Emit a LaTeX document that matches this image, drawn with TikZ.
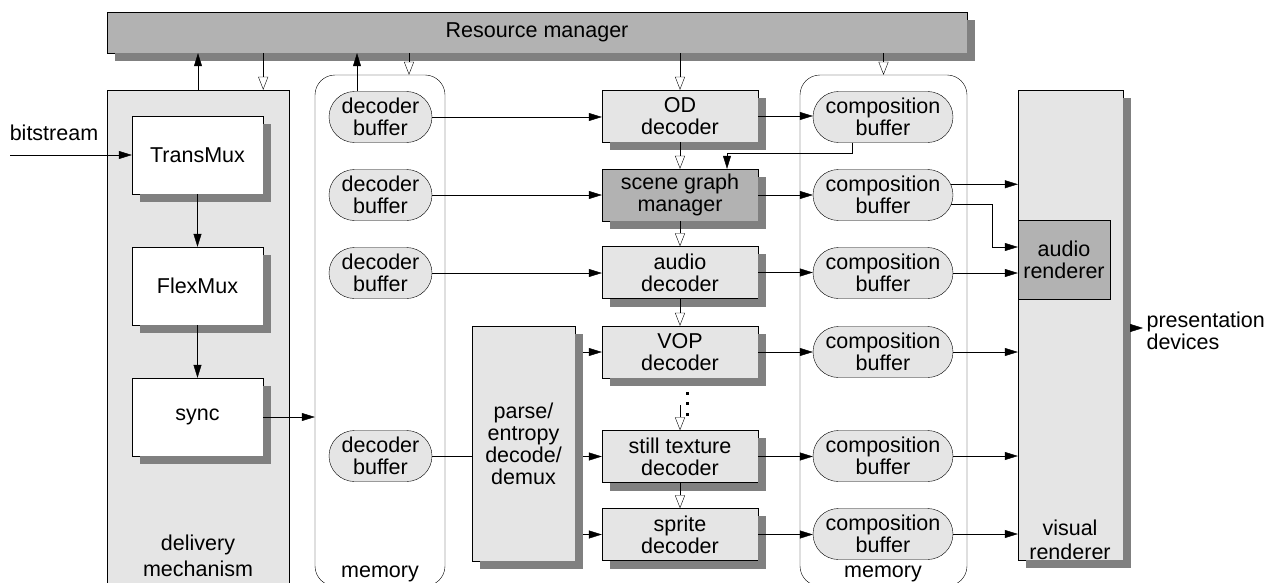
\documentclass[tikz,border=0pt]{standalone}
\usepackage{fontspec}
\setmainfont{Liberation Sans}
\usetikzlibrary{arrows.meta,shapes.misc}
\definecolor{boxlight}{gray}{0.9}
\definecolor{boxmid}{gray}{0.7}
\definecolor{boxshadow}{rgb}{0.5,0.5,0.5}
\pgfdeclarelayer{back}
\pgfsetlayers{back,main}

\begin{document}
\begin{tikzpicture}[x=1pt, y=-1pt, line width=1.2pt,
    font=\fontsize{21.5}{22}\selectfont,
    block/.style={draw, inner sep=0pt, align=center, fill=boxlight},
    buffer/.style={draw, rounded rectangle, fill=boxlight, inner sep=0pt,
        align=center, minimum height=51pt},
    memory/.style={draw, rounded corners=20pt, minimum height=511pt},
    filled/.style={-{Triangle[length=13pt,width=8pt]}},
    hollow/.style={-{Triangle[open,length=13pt,width=10pt]}}]
    \useasboundingbox (0,0) rectangle (1265,583);

    %% delivery mechanism
    \begin{pgfonlayer}{back}
      \node[draw, fill=boxlight, minimum width=182pt, minimum height=510pt] (deliv)
          at (198,345) {};
    \end{pgfonlayer}

    %% resource manager
    \node[block, fill=boxmid, minimum width=860pt, minimum height=41pt] (resmgr)
        at (537,32.5) {Resource manager};
    \node[align=center] (delivlbl) at (198,556) {delivery\\[4pt]mechanism};
    \foreach \name/\y/\txt in {transmux/155/TransMux, flexmux/286/FlexMux, sync/417/sync} {
        \node[block, fill=white, minimum width=131pt, minimum height=78pt] (\name)
            at (197.5,\y) {\txt}; }

    %% memories
    \node[memory, minimum width=130pt] (mem1) at (380,330.5) {};
    \node[memory, minimum width=167pt] (mem2) at (883.5,330.5) {};
    \node[anchor=base] (mem1lbl) at (380,577) {memory};
    \node[anchor=base] (mem2lbl) at (883,577) {memory};

    \foreach \name/\y in {db1/117, db2/195, db3/273, db4/456} {
        \node[buffer, minimum width=103pt] (\name) at (380.5,\y) {decoder\\buffer}; }

    \foreach \name/\y in {cb1/117, cb2/195, cb3/273, cb4/352, cb5/456, cb6/534} {
        \node[buffer, minimum width=140pt] (\name) at (883,\y) {composition\\buffer}; }

    %% decoders
    \foreach \name/\y/\tone/\txt in {od/116/boxlight/{OD\\decoder},
            scene/195/boxmid/{scene graph\\manager}, audio/272.5/boxlight/{audio\\decoder},
            vop/352/boxlight/{VOP\\decoder}, still/456.5/boxlight/{still texture\\decoder},
            sprite/534.5/boxlight/{sprite\\decoder}} {
        \node[block, fill=\tone, minimum width=156pt, minimum height=52pt] (\name)
            at (680,\y) {\txt}; }

    \node[block, minimum width=103pt, minimum height=235pt] (parse)
        at (523.5,443.5) {parse/\\entropy\\decode/\\demux};

    %% renderers
    \node[block, minimum width=105pt, minimum height=470pt] (vrend) at (1070.5,325) {};
    \node[align=center] (vrendlbl) at (1070,540) {visual\\[2pt]renderer};
    \node[draw, fill=boxmid, inner sep=0pt, align=center, minimum width=92pt,
        minimum height=79pt] (arend) at (1064,259.5) {audio\\renderer};
    \node[anchor=west, align=left] (pres) at (1143,331) {presentation\\devices};
    \node (bslbl) at (54,133) {bitstream};

    %% shadows, right and bottom strips
    \foreach \n in {resmgr,transmux,flexmux,sync,od,scene,audio,vop,still,sprite,parse,vrend} {
        \fill[boxshadow] ([yshift=-8pt]\n.north east) rectangle ([shift={(8pt,-8pt)}]\n.south east);
        \fill[boxshadow] ([xshift=8pt]\n.south west) rectangle ([shift={(8pt,-8pt)}]\n.south east); }

    %% resource manager links
    \draw[filled] (deliv.north) -- (deliv.north |- resmgr.south);
    \draw[hollow] (transmux.east |- resmgr.south) -- (transmux.east |- deliv.north);
    \coordinate (db1up) at ([xshift=-23.5pt]db1.north);
    \draw[filled] (db1up) -- (db1up |- resmgr.south);
    \coordinate (mem1in) at ([xshift=29pt]mem1.north);
    \draw[hollow] (mem1in |- resmgr.south) -- (mem1in);
    \draw[hollow] (od.north |- resmgr.south) -- (od.north);
    \draw[hollow] (mem2.north |- resmgr.south) -- (mem2.north);

    %% delivery
    \coordinate (bsin) at (10,155);
    \draw[filled] (bsin) -- (transmux.west);
    \draw[filled] (transmux.south) -- (flexmux.north);
    \draw[filled] (flexmux.south) -- (sync.north);
    \draw[filled] (sync.east) -- (sync.east -| mem1.west);

    %% decoder buffers to decoders
    \draw[filled] (db1.east) -- (db1.east -| od.west);
    \draw[filled] (db2.east) -- (db2.east -| scene.west);
    \draw[filled] (db3.east) -- (db3.east -| audio.west);
    \draw (db4.east) -- (db4.east -| parse.west);
    \coordinate (pshad) at ([xshift=8pt]parse.east);
    \foreach \n in {vop,still,sprite} {
        \draw[filled] (pshad |- \n.west) -- (\n.west); }

    %% decoder chain
    \draw[hollow] (od.south) -- (scene.north);
    \draw[hollow] (scene.south) -- (audio.north);
    \draw[hollow] (audio.south) -- (vop.north);
    \draw[hollow] (still.south) -- (sprite.north);
    \foreach \y in {393,403.5,414} {
        \fill (685.5,\y-1.5) rectangle +(3,3); }
    \coordinate (dotsend) at (680,405);
    \draw[hollow] (dotsend) -- (still.north);

    %% decoders to composition buffers
    \draw[filled] (od.east) -- (od.east -| cb1.west);
    \draw[filled] (scene.east) -- (scene.east -| cb2.west);
    \draw[filled] (audio.east) -- (audio.east -| cb3.west);
    \draw[filled] (vop.east) -- (vop.east -| cb4.west);
    \draw[filled] (still.east) -- (still.east -| cb5.west);
    \draw[filled] (sprite.east) -- (sprite.east -| cb6.west);
    \coordinate (cbturn) at (727,153);
    \draw[filled] ([xshift=-31pt]cb1.south) |- (cbturn) -- (cbturn |- scene.north);

    %% composition buffers to renderers
    \draw[filled] (cb2.9) -- (cb2.9 -| vrend.west);
    \coordinate (abend) at (992,247);
    \draw[filled] (cb2.352) -| (abend) -- (abend -| arend.west);
    \draw[filled] (cb3.east) -- (cb3.east -| arend.west);
    \foreach \n in {cb4,cb5,cb6} {
        \draw[filled] (\n.east) -- (\n.east -| vrend.west); }
    \coordinate (presout) at (1131,328);
    \draw[filled] (presout) -- (presout -| pres.west);

\end{tikzpicture}
\end{document}
